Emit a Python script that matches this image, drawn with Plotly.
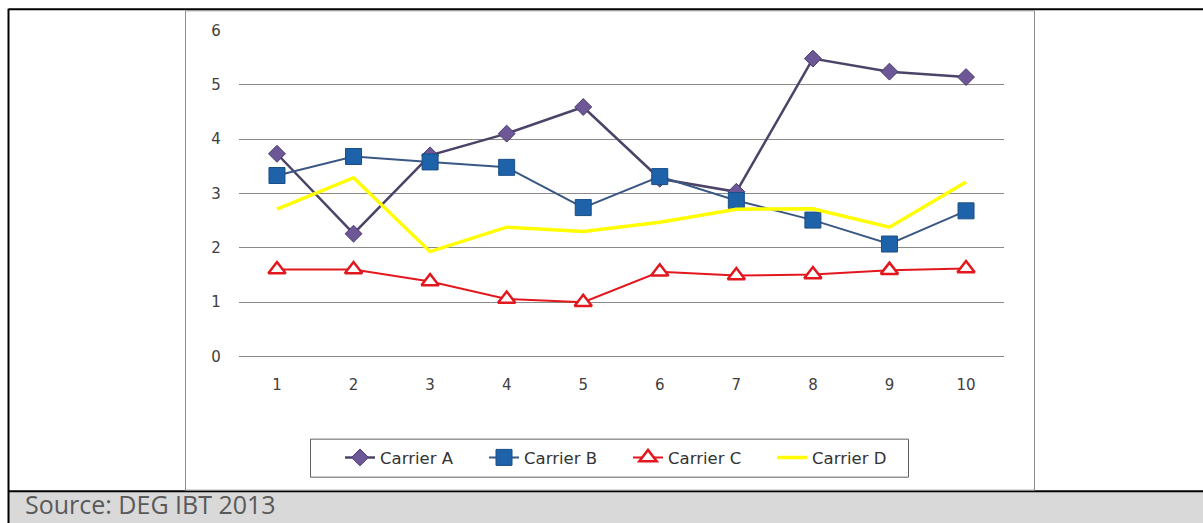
import plotly.graph_objects as go

categories = [1, 2, 3, 4, 5, 6, 7, 8, 9, 10]
carrier_a = [3.73, 2.26, 3.70, 4.10, 4.59, 3.27, 3.03, 5.48, 5.24, 5.14]
carrier_b = [3.33, 3.68, 3.58, 3.48, 2.74, 3.31, 2.87, 2.51, 2.07, 2.68]
carrier_c = [1.60, 1.60, 1.38, 1.06, 1.00, 1.56, 1.49, 1.51, 1.59, 1.62]
carrier_d = [2.71, 3.29, 1.93, 2.38, 2.30, 2.47, 2.71, 2.72, 2.38, 3.21]
y_ticks = [0, 1, 2, 3, 4, 5, 6]

W, H = 1203, 523
# the photographed page maps layout y to picture y as 7.7 + 0.9667*y;
# positions below are given in picture pixels and converted back.
def px(x):
    return x / W
def py(y):
    yy = (y - 7.7) / 0.9667
    return (H - yy) / H

FONT = "DejaVu Sans"

fig = go.Figure()
fig.add_trace(go.Scatter(
    x=categories, y=carrier_a, name="Carrier A", mode="lines+markers",
    line=dict(color="#4C4468", width=2.5),
    marker=dict(symbol="diamond", size=13, color="#6E5797",
                line=dict(color="#4A3B6C", width=1))))
fig.add_trace(go.Scatter(
    x=categories, y=carrier_b, name="Carrier B", mode="lines+markers",
    line=dict(color="#3B5885", width=2),
    marker=dict(symbol="square", size=16, color="#1E62A9",
                line=dict(color="#1A4E86", width=1))))
fig.add_trace(go.Scatter(
    x=categories, y=carrier_c, name="Carrier C", mode="lines+markers",
    line=dict(color="#E3171E", width=2),
    marker=dict(symbol="triangle-up", size=15, color="white",
                line=dict(color="#E3171E", width=2.5))))
fig.add_trace(go.Scatter(
    x=categories, y=carrier_d, name="Carrier D", mode="lines",
    line=dict(color="#FFFF00", width=3.5)))

shapes = [
    # grey source band
    dict(type="rect", xref="paper", yref="paper", x0=px(8), x1=px(1210),
         y0=-0.05, y1=py(491), fillcolor="#D9D9D9", line=dict(width=0), layer="below"),
    # outer black frame
    dict(type="line", xref="paper", yref="paper", x0=px(8.5), x1=px(1210),
         y0=py(9), y1=py(9), line=dict(color="black", width=2), layer="below"),
    dict(type="line", xref="paper", yref="paper", x0=px(8.5), x1=px(8.5),
         y0=py(8.5), y1=-0.05, line=dict(color="black", width=2), layer="below"),
    dict(type="line", xref="paper", yref="paper", x0=px(8), x1=px(1210),
         y0=py(490.5), y1=py(490.5), line=dict(color="black", width=2), layer="below"),
    # chart box
    dict(type="rect", xref="paper", yref="paper", x0=px(185.5), x1=px(1034.5),
         y0=py(489.5), y1=py(10.5), fillcolor="white",
         line=dict(color="#8C8C8C", width=1), layer="below"),
    # legend box
    dict(type="rect", xref="paper", yref="paper", x0=px(310.5), x1=px(908.5),
         y0=py(476.5), y1=py(438.5), fillcolor="white",
         line=dict(color="#606060", width=1), layer="below"),
]

fig.update_layout(
    width=W, height=H,
    margin=dict(l=0, r=0, t=0, b=0),
    paper_bgcolor="white", plot_bgcolor="rgba(0,0,0,0)",
    font=dict(family=FONT, size=15, color="#404040"),
    shapes=shapes,
    xaxis=dict(domain=[px(238.7), px(1004.3)], range=[0.5, 10.5],
               tickvals=categories, ticktext=[str(c) for c in categories],
               showgrid=False, zeroline=False, showline=False,
               ticks="", ticklabelstandoff=17,
               tickfont=dict(family=FONT, size=15, color="#404040")),
    yaxis=dict(domain=[py(356), py(29)], range=[0, 6.0184],
               tickvals=y_ticks, showgrid=True, gridcolor="#8A8A8A", gridwidth=1,
               zeroline=True, zerolinecolor="#8A8A8A", zerolinewidth=1,
               showline=False, ticks="", ticklabelstandoff=17,
               tickfont=dict(family=FONT, size=15, color="#404040")),
    showlegend=True,
    legend=dict(orientation="h", x=px(340), y=py(457), xanchor="left", yanchor="middle",
                bgcolor="rgba(0,0,0,0)", borderwidth=0,
                entrywidth=99, entrywidthmode="pixels",
                font=dict(family=FONT, size=16.5, color="#333333"),
                traceorder="normal"),
    annotations=[dict(text="Source: DEG IBT 2013", xref="paper", yref="paper",
                      x=px(23), y=py(503.5), xanchor="left", yanchor="middle",
                      showarrow=False,
                      font=dict(family="Open Sans", size=25, color="#595959"))],
)

fig.write_html("out.html", config={"displayModeBar": False},
               post_script="document.documentElement.style.margin='0';document.body.style.margin='0';document.body.style.padding='0';")
